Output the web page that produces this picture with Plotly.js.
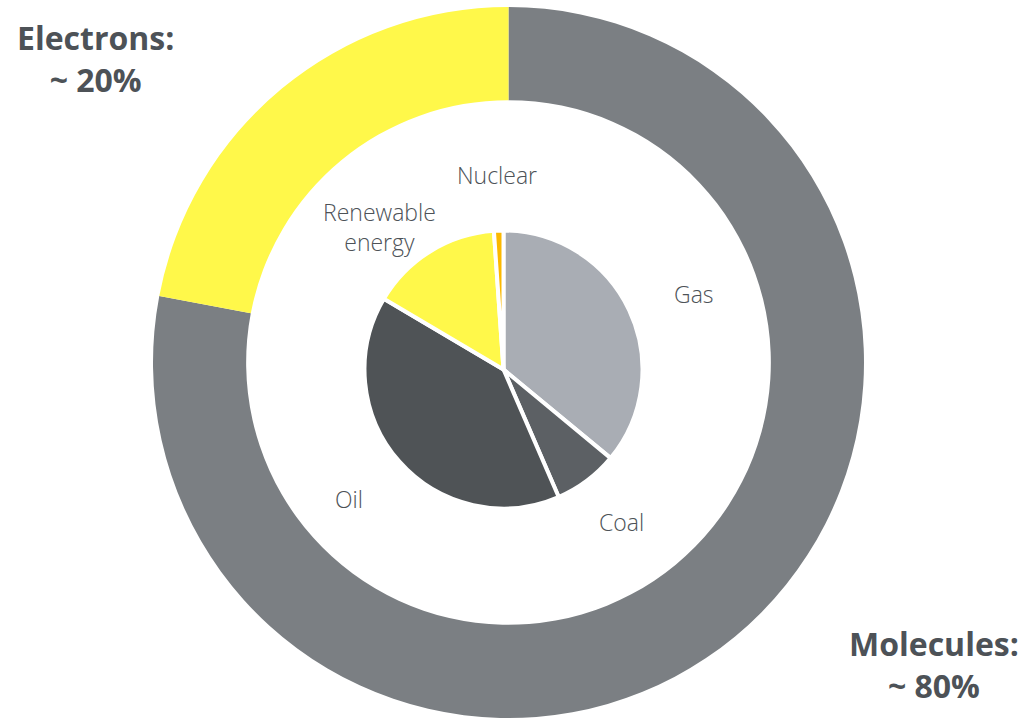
<!DOCTYPE html>
<html>
<head>
<meta charset="utf-8">
<script src="https://cdn.plot.ly/plotly-3.0.1.min.js"></script>
<style>html,body{margin:0;padding:0;background:#fff;}#chart{width:1030px;height:718px;}</style>
</head>
<body>
<div id="chart"></div>
<script>
// Outer ring: share of final energy
const outerLabels = ["Molecules", "Electrons"];
const outerValues = [78, 22];
const outerColors = ["#7b7f83", "#fff84a"];

// Inner pie: energy sources
const innerLabels = ["Gas", "Coal", "Oil", "Renewable energy", "Nuclear"];
const innerValues = [36, 7.5, 40, 15.4, 1.1];
const innerColors = ["#a9adb4", "#5c6064", "#4f5356", "#fff84a", "#fbb800"];

// Text labels
const bigLabels = ["Electrons:<br>~ 20%", "Molecules:<br>~ 80%"];
const smallLabels = ["Nuclear", "Renewable<br>energy", "Gas", "Coal", "Oil"];

const W = 1030, H = 718;
const px = x => x / W;
const py = y => 1 - y / H;

const data = [
  {
    type: "pie",
    labels: outerLabels,
    values: outerValues,
    marker: {colors: outerColors, line: {width: 0}},
    hole: 0.738,
    sort: false,
    direction: "clockwise",
    rotation: 0,
    textinfo: "none",
    hoverinfo: "label+percent",
    domain: {x: [px(153), px(864)], y: [py(718), py(7)]},
    showlegend: false
  },
  {
    type: "pie",
    labels: innerLabels,
    values: innerValues,
    marker: {colors: innerColors, line: {color: "#ffffff", width: 4}},
    sort: false,
    direction: "clockwise",
    rotation: 0,
    textinfo: "none",
    hoverinfo: "label+percent",
    domain: {x: [px(364.5), px(642.5)], y: [py(508.5), py(230.5)]},
    showlegend: false
  }
];

const textColor = "#4d5257";
const bigPos = [[95, 58], [934, 664]];
const smallPos = [[497, 175], [379, 227], [694, 294], [621, 522], [349, 499]];

const annotations = [];
bigLabels.forEach((t, i) => {
  annotations.push({
    text: "<b>" + t + "</b>", xref: "paper", yref: "paper",
    x: px(bigPos[i][0]), y: py(bigPos[i][1]), xanchor: "center", yanchor: "middle",
    showarrow: false, align: "center",
    font: {family: "Open Sans", size: 32, color: textColor, weight: 700}
  });
});
smallLabels.forEach((t, i) => {
  annotations.push({
    text: t, xref: "paper", yref: "paper",
    x: px(smallPos[i][0]), y: py(smallPos[i][1]), xanchor: "center", yanchor: "middle",
    showarrow: false, align: "center",
    font: {family: "Open Sans", size: 23, color: textColor, weight: 300}
  });
});

const layout = {
  width: W, height: H,
  margin: {l: 0, r: 0, t: 0, b: 0},
  paper_bgcolor: "#ffffff",
  plot_bgcolor: "#ffffff",
  showlegend: false,
  annotations: annotations
};

Plotly.newPlot("chart", data, layout, {displayModeBar: false, staticPlot: true});
</script>
</body>
</html>
